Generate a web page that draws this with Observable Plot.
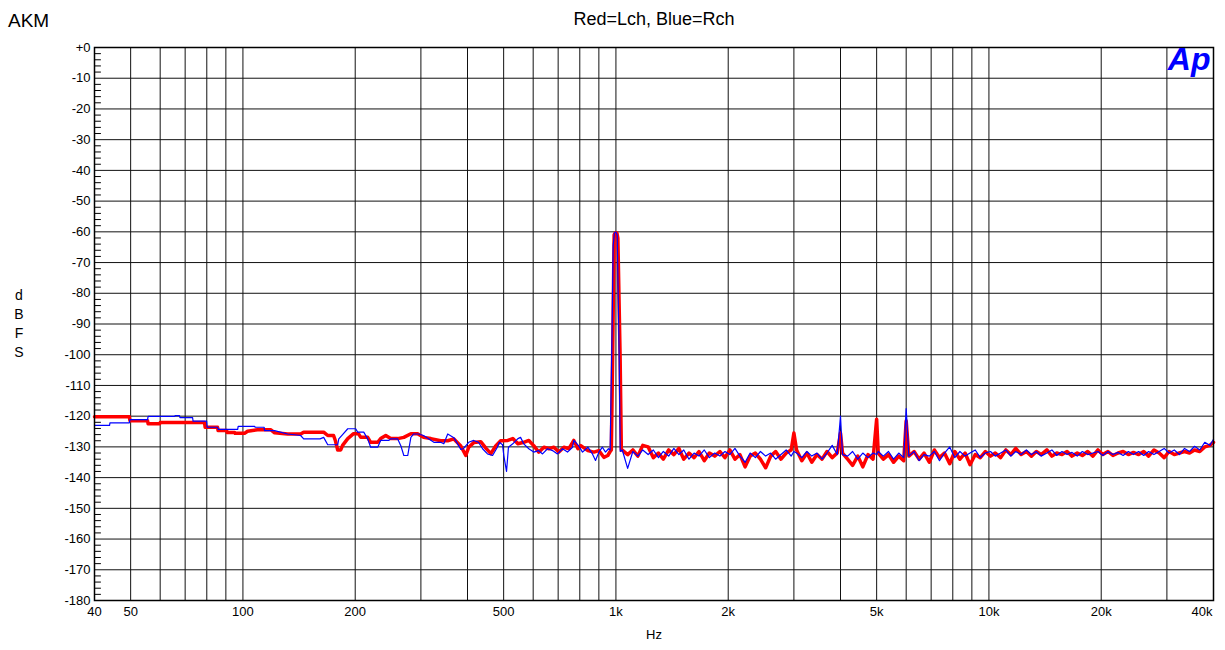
<!DOCTYPE html>
<html><head><meta charset="utf-8">
<script src="https://cdn.jsdelivr.net/npm/d3@7"></script>
<script src="https://cdn.jsdelivr.net/npm/@observablehq/plot@0.6"></script>
<style>
body{margin:0;background:#fff;font-family:"Liberation Sans",Arial,sans-serif;}
#wrap{position:relative;width:1225px;height:650px;overflow:hidden;}
.t{position:absolute;color:#000;white-space:nowrap;}
</style></head><body>
<div id="wrap">
<div id="chart"></div>
<div class="t" style="left:8px;top:11px;font-size:19px;line-height:19px">AKM</div>
<div class="t" style="left:454px;width:400px;text-align:center;top:10px;font-size:18px;line-height:18px">Red=Lch, Blue=Rch</div>
<div class="t" style="left:554px;width:200px;text-align:center;top:628px;font-size:13px;line-height:13px">Hz</div>
<div class="t" style="left:9px;width:20px;text-align:center;top:286px;font-size:14px;line-height:19px">d<br>B<br>F<br>S</div>
</div>
<script>
// Axis ticks and grid
const xGrid = [40,50,60,70,80,90,100,200,300,400,500,600,700,800,900,1000,2000,3000,4000,5000,6000,7000,8000,9000,10000,20000,30000,40000];
const xTicks = [40,50,100,200,500,1000,2000,5000,10000,20000];
const xTickLast = [40000];
const yTicks = [0,-10,-20,-30,-40,-50,-60,-70,-80,-90,-100,-110,-120,-130,-140,-150,-160,-170,-180];
const yMinor = [-2,-4,-6,-8,-12,-14,-16,-18,-22,-24,-26,-28,-32,-34,-36,-38,-42,-44,-46,-48,-52,-54,-56,-58,-62,-64,-66,-68,-72,-74,-76,-78,-82,-84,-86,-88,-92,-94,-96,-98,-102,-104,-106,-108,-112,-114,-116,-118,-122,-124,-126,-128,-132,-134,-136,-138,-142,-144,-146,-148,-152,-154,-156,-158,-162,-164,-166,-168,-172,-174,-176,-178];

// Lch (red), 40 Hz - 1 kHz incl. the 1 kHz tone
const lchLowFreq = [40,49.6,49.8,55.5,55.7,59.8,60,78.9,79.2,85.5,85.8,90.4,90.7,95,95.3,101,102.9,109.4,118.6,121.6,131.8,142.8,145.5,164.6,168.8,175,177,179.5,182.9,185,191,198,204,207,216,220,229.8,234,241.5,249,260,270,282,294,305,319,339,354,367.7,383.8,395.8,403,415.7,434,448,462,476,491,513,529,546,566,584,602,621,641,661,682,703,725,748,771,791,805,841,873,900,928,951,965,972,980,989,995,1006,1012,1026,1034];
const lchLowDb = [-120.2,-120.2,-121.5,-121.5,-122.5,-122.5,-122.1,-122.1,-123.6,-123.6,-124.7,-124.7,-125.3,-125.3,-125.6,-125.6,-124.9,-124.4,-124.4,-125.4,-125.8,-125.8,-125.2,-125.2,-126.3,-126.3,-128,-131,-131,-129.5,-127.3,-125.7,-125.7,-126.9,-126.9,-128.5,-128.5,-127.3,-126.3,-127.3,-127.3,-126.9,-125.7,-125.7,-126.9,-127.3,-128,-128,-127.4,-129.7,-132.8,-130.1,-128.6,-128.3,-130.4,-132.2,-129.7,-128,-127.9,-127.3,-129,-128.5,-127.9,-129.6,-131.7,-130.1,-130.6,-130.1,-131.7,-130.1,-130.6,-127.9,-130.6,-129.6,-131.2,-131.7,-131.2,-133.4,-132.8,-131.5,-131,-100,-61,-60.4,-60.4,-62,-100,-131];

// Rch (blue), 40 Hz - 1 kHz incl. the 1 kHz tone
const rchLowFreq = [40,43.9,44,49.6,49.8,55.5,55.7,65.6,65.8,67.6,67.8,73.3,73.5,79.9,80.2,85.5,85.8,96.8,97.1,107.5,107.8,114,114.3,121.6,131.8,142.8,145.5,161,164.6,168.8,179.5,180.7,185,191,200.6,203,210.8,216,220,229.8,234,246,249,260,265,270,276.6,282,287,295.5,305,325,339,345.6,354,367.7,383.8,390,403,415.7,428,439,452.5,467,481,487,496.5,500.5,509,515,529,546,555,566,584,602,621,635.6,655.6,676,697,719,741.6,765,771,794,813.6,841,865,881.6,900,920,937.6,955,965,977,983,991,1000,1008,1020,1027];
const rchLowDb = [-123,-123,-122.2,-122.2,-121.1,-121.1,-120.1,-120.1,-119.8,-119.8,-120.5,-120.5,-121.6,-121.6,-123.6,-123.6,-124.3,-124.3,-123.3,-123.3,-123.6,-123.6,-124.7,-124.7,-125.8,-126.3,-127.4,-127.4,-126.9,-129.3,-129.3,-127.4,-126,-124.1,-124.1,-125.2,-125.2,-127.4,-130.1,-130.1,-127.9,-127.9,-127.4,-127.4,-129.6,-132.8,-132.8,-126.9,-125.8,-125.8,-126.3,-128.5,-128.5,-129,-125.8,-127,-130.8,-130.6,-128.5,-127.9,-128.5,-130.6,-132.3,-132.8,-130.1,-128.5,-129.3,-132.8,-138,-130.1,-129,-127.3,-126.9,-129,-130.6,-131.7,-131.2,-132.3,-130.6,-131.2,-132.3,-130.6,-131.7,-130.1,-127.9,-129.6,-131.7,-130.1,-132.3,-134.4,-131.7,-130.1,-131.7,-130.6,-131,-90,-64.4,-60.3,-60.1,-61,-100,-131.5];

// 1 kHz - 40 kHz, shared frequency points
const hfFreq = [1040,1075,1110,1145,1180,1220,1260,1300,1340,1385,
 1430,1475,1520,1570,1620,1670,1725,1780,1840,1900,
 1960,2020,2085,2150,2220,2290,2365,2440,2520,2600,
 2680,2770,2860,2950,3000,3050,3150,3250,3350,3460,
 3570,3680,3800,3920,4000,4050,4180,4310,4450,4590,
 4740,4890,5000,5050,5210,5380,5550,5730,5910,6000,
 6100,6300,6500,6700,6920,7140,7370,7600,7850,8100,
 8360,8630,8900,9190,9480,9780,10100,10400,10750,11100,
 11450,11800,12200,12600,13000,13400,13800,14300,14750,15200,
 15700,16200,16700,17250,17800,18400,19000,19600,20200,20850,
 21500,22200,22900,23650,24400,25200,26000,26800,27700,28600,
 29500,30400,31400,32400,33450,34500,35600,36750,37900,39100,
 40000];
const lchHfDb = [-131,-132.5,-131,-133,-129.5,-130,-133.5,-132,-134,-131,
 -132.5,-130.5,-134,-132,-133.5,-131.5,-134.5,-132,-133,-131.5,
 -133.5,-131,-134,-132.5,-136.5,-133,-132,-134,-136.8,-133,
 -131.5,-134,-132,-131,-125.5,-131,-134.5,-132,-135,-132.5,
 -134,-131.5,-133.5,-132,-125.5,-132,-134,-136,-133,-136.5,
 -132.5,-134,-121,-132,-134,-132.5,-135,-133,-134.5,-121.5,
 -133,-131.5,-134,-132,-135,-131,-133.5,-132,-135.5,-131.5,
 -134,-132,-135.8,-132.5,-133.5,-131.5,-133,-132,-133.5,-131,
 -132.5,-130.5,-132.5,-131.5,-133,-131.5,-132.5,-131,-133,-132,
 -132.5,-131.5,-133,-132,-132.8,-131.5,-133,-131,-132.5,-131.5,
 -132.8,-132,-131.5,-132.5,-131.8,-132.5,-131.5,-133,-131,-132,
 -133.5,-131.5,-132.5,-132,-131.5,-132,-131,-131.5,-130,-129.5,
 -128.5];
const rchHfDb = [-131,-137,-131.5,-133,-131,-132.5,-131,-133.5,-131.5,-133,
 -130.5,-132.5,-131,-134,-132,-133,-131,-133.5,-132,-133,
 -131.5,-132.5,-130.5,-133,-135,-132,-133.5,-131.5,-133,-132,
 -134,-132.5,-131,-133,-131.5,-132,-133.5,-131.5,-133,-132,
 -134,-132,-129.5,-132.5,-120,-132.5,-133,-131.5,-134,-132,
 -133.5,-132,-132.5,-131.5,-133,-131.5,-134,-132,-133.5,-117.5,
 -133,-131.5,-134.5,-132.5,-133,-131.5,-134.5,-132,-130,-133.5,
 -131.5,-133,-132,-131,-133.5,-132,-131.5,-133,-132,-131,
 -133,-131.5,-132.5,-131,-132.5,-131.5,-133,-132,-131,-132.8,
 -131.5,-132.5,-131.8,-133,-131.5,-132.5,-132,-131.5,-132.8,-131.5,
 -132.5,-131.8,-132.8,-131.5,-132.5,-131.5,-132.8,-131.5,-132.5,-131.5,
 -130.5,-132,-131,-132.5,-130.5,-131.5,-129.8,-131,-128.5,-129.5,
 -127.5];

const lch = lchLowFreq.map((f, i) => ({f, db: lchLowDb[i]}))
  .concat(hfFreq.map((f, i) => ({f, db: lchHfDb[i]})));
const rch = rchLowFreq.map((f, i) => ({f, db: rchLowDb[i]}))
  .concat(hfFreq.map((f, i) => ({f, db: rchHfDb[i]})));

const fmtX = d => d >= 1000 ? (d / 1000) + "k" : String(d);
const fmtY = d => d === 0 ? "+0" : String(d);
const tickShape = {draw(context, l) { context.moveTo(0, 0); context.lineTo(0, -l); }};
const font = '"Liberation Sans", Arial, sans-serif';

const chart = Plot.plot({
  width: 1225, height: 650,
  marginLeft: 94, marginRight: 12, marginTop: 47, marginBottom: 50,
  style: {fontFamily: font, fontSize: "13px", background: "transparent", color: "#000", overflow: "visible"},
  x: {type: "log", domain: [40, 40000], axis: null},
  y: {domain: [-180, 0], axis: null},
  marks: [
    Plot.ruleX(xGrid, {x: d => d, stroke: "#111"}),
    Plot.ruleY(yTicks, {y: d => d, stroke: "#111"}),
    Plot.vector(yMinor, {y: d => d, frameAnchor: "left", length: 6, rotate: 90, anchor: "start", shape: tickShape, stroke: "#000", strokeWidth: 1}),
    Plot.text(yTicks, {y: d => d, text: fmtY, frameAnchor: "left", textAnchor: "end", dx: -4, fontSize: 13, fill: "#000"}),
    Plot.text(xTicks, {x: d => d, text: fmtX, frameAnchor: "bottom", lineAnchor: "top", dy: 6, fontSize: 13, fill: "#000"}),
    Plot.text(xTickLast, {x: d => d, text: fmtX, frameAnchor: "bottom", lineAnchor: "top", textAnchor: "end", dx: -1, dy: 6, fontSize: 13, fill: "#000"}),
    Plot.line(lch, {x: "f", y: "db", stroke: "#ff0000", strokeWidth: 3.5, strokeLinejoin: "round"}),
    Plot.line(rch, {x: "f", y: "db", stroke: "#0000ff", strokeWidth: 1.2}),
    Plot.frame({stroke: "#000", strokeWidth: 1.5}),
    Plot.text(["Ap"], {text: d => d, frameAnchor: "top-right", dx: -3, dy: 0, lineAnchor: "top", textAnchor: "end", fill: "#0000ff", fontSize: 32, fontWeight: "bold", fontStyle: "italic", fontFamily: font, letterSpacing: "-2px"})
  ]
});
document.getElementById("chart").appendChild(chart);
</script>
</body></html>
